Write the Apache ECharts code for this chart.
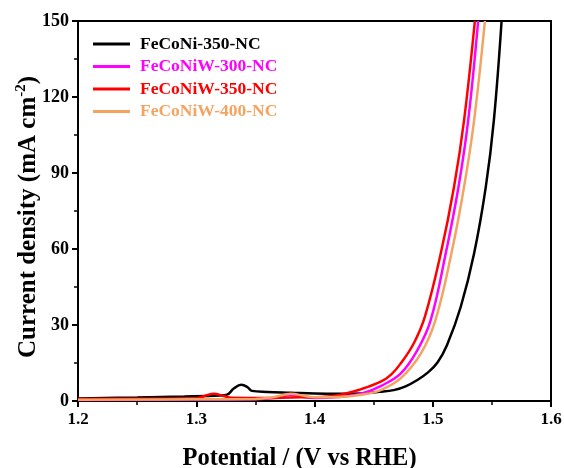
<!DOCTYPE html>
<html>
<head>
<meta charset="utf-8">
<script src="https://cdn.jsdelivr.net/npm/echarts@6/dist/echarts.min.js"></script>
<style>html,body{margin:0;padding:0;background:#fff}#c{width:564px;height:468px}</style>
</head>
<body>
<div id="c"></div>
<script>
const seriesNames = ['FeCoNi-350-NC','FeCoNiW-300-NC','FeCoNiW-350-NC','FeCoNiW-400-NC'];
const seriesColors = ['#000000','#ff00ff','#ff0000','#f4a460'];
const xTicks = [1.2,1.3,1.4,1.5,1.6];
const yTicks = [0,30,60,90,120,150];

const blackV = [1.20,1.25,1.29,1.32,1.326,1.332,1.338,1.343,1.347,1.36,1.38,1.40,1.42,1.439,1.455,1.467,1.477,1.487,1.496,1.504,1.512,1.5237,1.535,1.5449,1.5517,1.5582];
const blackJ = [1.0,1.4,1.8,2.2,2.5,5.0,6.4,5.6,4.0,3.6,3.3,3.0,2.9,3.0,3.6,4.3,5.8,8.3,11.3,15.2,22.0,37.2,58.3,84.6,110.9,150];

const magentaV = [1.20,1.30,1.35,1.368,1.38,1.392,1.40,1.42,1.44,1.456,1.473,1.487,1.498,1.511,1.5218,1.530,1.5384];
const magentaJ = [0.4,0.6,0.7,1.3,2.4,1.5,1.2,1.6,3.0,5.9,10.9,20.1,31.5,58.3,84.6,110.9,150];

const redV = [1.20,1.25,1.30,1.307,1.315,1.323,1.33,1.36,1.38,1.40,1.42,1.439,1.456,1.465,1.473,1.484,1.4935,1.5068,1.518,1.5265,1.5356];
const redJ = [0.8,0.9,1.1,2.0,2.9,2.0,1.3,1.2,1.4,1.5,2.3,4.6,7.6,10.5,14.9,22.8,33.5,58.3,84.6,110.9,150];

const orangeV = [1.20,1.30,1.35,1.365,1.38,1.392,1.40,1.42,1.44,1.456,1.473,1.490,1.502,1.5158,1.5265,1.535,1.5441];
const orangeJ = [0.5,0.7,0.8,1.5,2.9,2.0,1.5,1.6,2.5,4.3,9.0,18.8,31.5,58.3,84.6,110.9,150];

const allV = [blackV, magentaV, redV, orangeV];
const allJ = [blackJ, magentaJ, redJ, orangeJ];

const FONT = '"Liberation Serif","Times New Roman",serif';

const chart = echarts.init(document.getElementById('c'), null, {renderer:'canvas'});
chart.setOption({
  animation:false,
  backgroundColor:'#fff',
  grid:{left:78,right:13,top:21,bottom:67,show:true,borderColor:'#000',borderWidth:2,backgroundColor:'transparent',
        containLabel:false, outerBoundsMode:'none'},
  legend:{
    orient:'vertical', left:88, top:30, itemWidth:37, itemHeight:3, itemGap:4.5, icon:'rect',
    textStyle:{fontFamily:FONT,fontWeight:'bold',fontSize:17.5,padding:[0,0,0,5]},
    data: seriesNames.map((n,i)=>({name:n, textStyle:{color:seriesColors[i]}}))
  },
  xAxis:{
    type:'value', min:xTicks[0], max:xTicks[xTicks.length-1], interval:0.1,
    name:'Potential / (V vs RHE)', nameLocation:'middle', nameGap:45, nameMoveOverlap:false,
    nameTextStyle:{fontFamily:FONT,fontWeight:'bold',fontSize:24.5,color:'#000',padding:[0,30,0,0]},
    axisLine:{onZero:false,lineStyle:{color:'#000',width:2}},
    axisTick:{show:true,inside:false,length:6,lineStyle:{color:'#000',width:2}},
    minorTick:{show:true,splitNumber:2,length:4,lineStyle:{color:'#000',width:1.5}},
    splitLine:{show:false},
    axisLabel:{fontFamily:FONT,fontWeight:'bold',fontSize:17,color:'#000',margin:10,
      formatter:v=>v.toFixed(1)}
  },
  yAxis:{
    type:'value', min:yTicks[0], max:yTicks[yTicks.length-1], interval:30,
    name:'{a|Current density (mA cm}{s|-2}{a|)}', nameLocation:'middle', nameGap:37, nameMoveOverlap:false,
    nameTextStyle:{fontFamily:FONT,fontWeight:'bold',fontSize:25,color:'#000',padding:[0,12,0,0],
      rich:{a:{fontFamily:FONT,fontWeight:'bold',fontSize:25,color:'#000',lineHeight:27,verticalAlign:'bottom'},
            s:{fontFamily:FONT,fontWeight:'bold',fontSize:15,color:'#000',lineHeight:27,verticalAlign:'top'}}},
    axisLine:{lineStyle:{color:'#000',width:2}},
    axisTick:{show:true,inside:false,length:6,lineStyle:{color:'#000',width:2}},
    minorTick:{show:true,splitNumber:2,length:4,lineStyle:{color:'#000',width:1.5}},
    splitLine:{show:false},
    axisLabel:{fontFamily:FONT,fontWeight:'bold',fontSize:18,color:'#000',margin:9}
  },
  series: seriesNames.map((n,i)=>({
    name:n, type:'line', showSymbol:false, symbol:'none', smooth:0.4, clip:true,
    lineStyle:{color:seriesColors[i],width:2.5}, itemStyle:{color:seriesColors[i]},
    data: allV[i].map((v,k)=>[v, allJ[i][k]])
  }))
});
</script>
</body>
</html>
